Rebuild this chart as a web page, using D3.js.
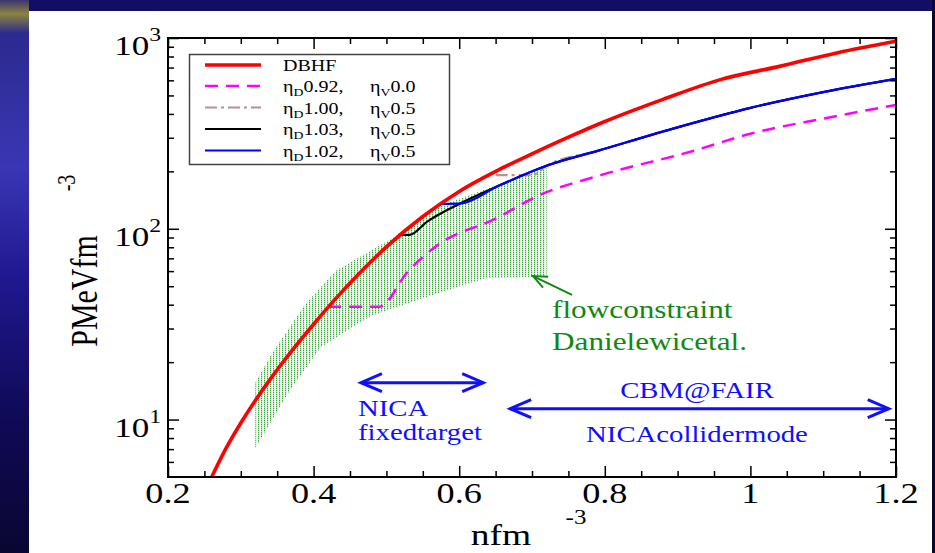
<!DOCTYPE html>
<html>
<head>
<meta charset="utf-8">
<script src="https://cdn.jsdelivr.net/npm/d3@7"></script>
<style>
  body { margin: 0; background: #100c5a; }
  svg { display: block; }
</style>
</head>
<body>
<div id="chart"></div>
<script>
// density n (fm^-3) and pressure P (MeV fm^-3)
var dbhfN = [0.26, 0.28, 0.30, 0.32, 0.34, 0.37, 0.40, 0.43, 0.46, 0.50, 0.55, 0.60, 0.65, 0.70, 0.75, 0.80, 0.88, 0.96, 1.04, 1.12, 1.20];
var dbhfP = [5.0, 7.1, 9.6, 12.6, 16.2, 22.9, 31.6, 42.9, 56.9, 80.4, 116, 157, 200, 247, 302, 365, 477, 607, 710, 838, 962];

var soft092N = [0.42, 0.49, 0.53, 0.57, 0.65, 0.71, 0.79, 0.92, 1.0, 1.1, 1.2];
var soft092P = [39, 39, 60, 82, 113, 150, 189, 255, 315, 378, 446];

// the three stiffer curves share this branch once the phase transition is over
var stiffN = [0.60, 0.654, 0.72, 0.79, 0.90, 1.0, 1.1, 1.2];
var stiffP = [135, 168, 214, 256, 340, 430, 520, 610];

var eta100N = [0.65, 0.70];   var eta100P = [191, 191];
var eta103N = [0.516, 0.532, 0.556]; var eta103P = [93, 93, 109];
var eta102N = [0.576, 0.603]; var eta102P = [135, 136];

// flow constraint band (Danielewicz et al.)
var flowUpN = [0.32, 0.342, 0.388, 0.43, 0.516, 0.576, 0.72];
var flowUpP = [15.6, 22, 40, 60, 93, 133, 210];
var flowLoN = [0.32, 0.365, 0.41, 0.479, 0.571, 0.636, 0.72];
var flowLoP = [7.1, 13.8, 24, 35, 46, 55, 56];

var xTicks = [0.2, 0.4, 0.6, 0.8, 1.0, 1.2];
var xTickLabels = ["0.2", "0.4", "0.6", "0.8", "1", "1.2"];
var yTicks = [10, 100, 1000];
var yTickExp = ["1", "2", "3"];

var legendNames = [["DBHF"], ["0.92,", "0.0"], ["1.00,", "0.5"], ["1.03,", "0.5"], ["1.02,", "0.5"]];

var W = 935, H = 553, SX = 1.25;
var SERIF = "'Liberation Serif', 'DejaVu Serif', serif";

var svg = d3.select("#chart").append("svg").attr("width", W).attr("height", H);
var defs = svg.append("defs");

// slide background
var lg = defs.append("linearGradient").attr("id", "bg").attr("x1", 0).attr("y1", 0).attr("x2", 0).attr("y2", 1);
[[0, "#3a3670"], [0.025, "#8a8440"], [0.06, "#2c2a8e"], [0.3, "#3a36b4"], [0.5, "#201890"], [0.75, "#100a58"], [1, "#0a0632"]]
  .forEach(function(s) { lg.append("stop").attr("offset", s[0]).attr("stop-color", s[1]); });
svg.append("rect").attr("width", W).attr("height", H).attr("fill", "#120e66");
svg.append("rect").attr("width", 29).attr("height", H).attr("fill", "url(#bg)");
svg.append("rect").attr("x", 932).attr("width", 3).attr("height", H).attr("fill", "#0a0830");
svg.append("rect").attr("x", 29).attr("y", 11).attr("width", 903).attr("height", H - 11).attr("fill", "#fff");

// dotted vertical hatch for the band
var pat = defs.append("pattern").attr("id", "hatch").attr("patternUnits", "userSpaceOnUse")
  .attr("width", 3).attr("height", 2);
pat.append("rect").attr("width", 1).attr("height", 1).attr("fill", "#36a836");
pat.append("rect").attr("y", 1).attr("width", 1).attr("height", 1).attr("fill", "#b4e0b4");
pat.append("rect").attr("x", 1).attr("width", 1).attr("height", 2).attr("fill", "#e0f3e0");

var x = d3.scaleLinear().domain([0.2, 1.2]).range([168, 896]);
var y = d3.scaleLog().domain([5, 1000]).range([477, 38]);

defs.append("clipPath").attr("id", "plot").append("rect")
  .attr("x", 168).attr("y", 38).attr("width", 728).attr("height", 439);

function zip(ns, ps) { return ns.map(function(n, i) { return [n, ps[i]]; }); }
var line = d3.line().x(function(d) { return x(d[0]); }).y(function(d) { return y(d[1]); });
var smooth = d3.line().x(function(d) { return x(d[0]); }).y(function(d) { return y(d[1]); }).curve(d3.curveMonotoneX);

var plot = svg.append("g").attr("clip-path", "url(#plot)");

var band = zip(flowUpN, flowUpP).concat(zip(flowLoN, flowLoP).reverse());
plot.append("path").attr("d", line(band) + "Z").attr("fill", "url(#hatch)");

var stiff = zip(stiffN, stiffP);
var series = [
  { pts: zip(eta100N, eta100P).concat(stiff.slice(2)), color: "#b89090", w: 2.2, dash: "12,4,3,4" },
  { pts: zip(eta103N, eta103P).concat(stiff), color: "#000", w: 2.2, dash: null },
  { pts: zip(eta102N, eta102P).concat(stiff.slice(1)), color: "#0000ff", w: 2.2, dash: null },
  { pts: zip(soft092N, soft092P), color: "#ff00ff", w: 2.5, dash: "13,8" }
];
series.forEach(function(s) {
  plot.append("path").attr("d", smooth(s.pts)).attr("fill", "none")
    .attr("stroke", s.color).attr("stroke-width", s.w).attr("stroke-dasharray", s.dash);
});
plot.append("path").attr("d", smooth(zip(dbhfN, dbhfP))).attr("fill", "none")
  .attr("stroke", "#ff0000").attr("stroke-width", 3.6);

// ticks, all pointing inward
var xMinor = d3.range(0.25, 1.2, 0.05).filter(function(v) { return Math.abs(v * 5 - Math.round(v * 5)) > 1e-6; });
var yMinor = [];
[1, 10, 100].forEach(function(d) { for (var k = 2; k <= 9; k++) if (k * d > 5) yMinor.push(k * d); });
function ticks(axis, vals, size, tr) {
  svg.append("g").attr("transform", tr)
    .call(axis.tickValues(vals).tickSize(size).tickFormat(""))
    .call(function(g) { g.select(".domain").remove(); g.selectAll("line").attr("stroke-width", 1.5); });
}
ticks(d3.axisBottom(x), xTicks, -11, "translate(0,477)");
ticks(d3.axisBottom(x), xMinor, -6, "translate(0,477)");
ticks(d3.axisTop(x), xTicks, -11, "translate(0,38)");
ticks(d3.axisTop(x), xMinor, -6, "translate(0,38)");
ticks(d3.axisLeft(y), yTicks, -11, "translate(168,0)");
ticks(d3.axisLeft(y), yMinor, -6, "translate(168,0)");
ticks(d3.axisRight(y), yTicks, -11, "translate(896,0)");
ticks(d3.axisRight(y), yMinor, -6, "translate(896,0)");
svg.append("rect").attr("x", 168).attr("y", 38).attr("width", 728).attr("height", 439)
  .attr("fill", "none").attr("stroke", "#000").attr("stroke-width", 2);

// text helper: the slide is stretched horizontally
function label(x0, y0, parts, size, anchor, color, rot) {
  var g = svg.append("g").attr("transform", "translate(" + x0 + "," + y0 + ") scale(" + SX + ",1)" + (rot ? " rotate(" + rot + ")" : ""));
  var t = g.append("text").attr("font-family", SERIF).attr("font-size", size)
    .attr("text-anchor", anchor || "start").attr("fill", color || "#000");
  parts.forEach(function(p) {
    if (typeof p === "string") p = { t: p };
    t.append("tspan").attr("dy", p.dy || 0).attr("font-size", p.size || size).text(p.t);
  });
  return t;
}

xTicks.forEach(function(v, i) { label(x(v), 503, [xTickLabels[i]], 29, "middle"); });
yTicks.forEach(function(v, i) { label(161, y(v) + 17, ["10", { t: yTickExp[i], dy: -14, size: 19 }], 28, "end"); });

label(501, 545, ["nfm"], 30, "middle");
label(576, 524, ["-3"], 20, "middle");
label(97, 291, ["PMeVfm"], 30, "middle", "#000", -90);
label(75, 183, ["-3"], 20, "middle", "#000", -90);

// legend
svg.append("rect").attr("x", 189.5).attr("y", 54.5).attr("width", 260).attr("height", 110)
  .attr("fill", "#fff").attr("stroke", "#444").attr("stroke-width", 1.5);
var legendRows = [65, 86, 107.5, 129, 150.5];
var legendStyles = [{ color: "#ff0000", w: 3.6, dash: null }].concat([series[3], series[0], series[1], series[2]]);
legendNames.forEach(function(nm, i) {
  var st = legendStyles[i], ry = legendRows[i];
  svg.append("line").attr("x1", 205).attr("x2", 261).attr("y1", ry).attr("y2", ry)
    .attr("stroke", st.color).attr("stroke-width", st.w).attr("stroke-dasharray", st.dash);
  if (nm.length === 1) {
    label(283, ry + 6, [nm[0]], 16);
  } else {
    label(283, ry + 6, ["\u03b7", { t: "D", dy: 4, size: 11 }, { t: nm[0], dy: -4 }], 16);
    label(370, ry + 6, ["\u03b7", { t: "V", dy: 4, size: 11 }, { t: nm[1], dy: -4 }], 16);
  }
});

// annotations
var blue = "#1010ff", green = "#118811";
function arrowHead(g, tx, ty, dx, dy, len, half, color, w) {
  var ux = dx / Math.hypot(dx, dy), uy = dy / Math.hypot(dx, dy);
  var bx = tx - ux * len, by = ty - uy * len;
  g.append("path").attr("d", "M" + (bx - uy * half) + "," + (by + ux * half) + "L" + tx + "," + ty + "L" + (bx + uy * half) + "," + (by - ux * half))
    .attr("fill", "none").attr("stroke", color).attr("stroke-width", w);
}
function doubleArrow(n0, n1, p) {
  var g = svg.append("g");
  var x0 = x(n0), x1 = x(n1), yy = y(p);
  g.append("line").attr("x1", x0).attr("x2", x1).attr("y1", yy).attr("y2", yy).attr("stroke", blue).attr("stroke-width", 3);
  arrowHead(g, x0, yy, -1, 0, 21, 9, blue, 3);
  arrowHead(g, x1, yy, 1, 0, 21, 9, blue, 3);
}
doubleArrow(0.465, 0.633, 15.6);
doubleArrow(0.670, 1.19, 11.4);
label(x(0.461), y(10.4), ["NICA"], 23, "start", blue);
label(x(0.461), y(7.8), ["fixedtarget"], 23, "start", blue);
label(x(0.9266), y(13.0), ["CBM@FAIR"], 23, "middle", blue);
label(x(0.9266), y(7.64), ["NICAcollidermode"], 23, "middle", blue);

var ga = svg.append("g");
ga.append("line").attr("x1", x(0.755)).attr("y1", y(45)).attr("x2", x(0.7014)).attr("y2", y(56.5))
  .attr("stroke", green).attr("stroke-width", 2);
arrowHead(ga, x(0.7014), y(56.5), x(0.7014) - x(0.755), y(56.5) - y(45), 14, 6, green, 2);
label(x(0.7275), y(34), ["flowconstraint"], 25, "start", green);
label(x(0.7275), y(23.2), ["Danielewicetal."], 25, "start", green);
</script>
</body>
</html>
